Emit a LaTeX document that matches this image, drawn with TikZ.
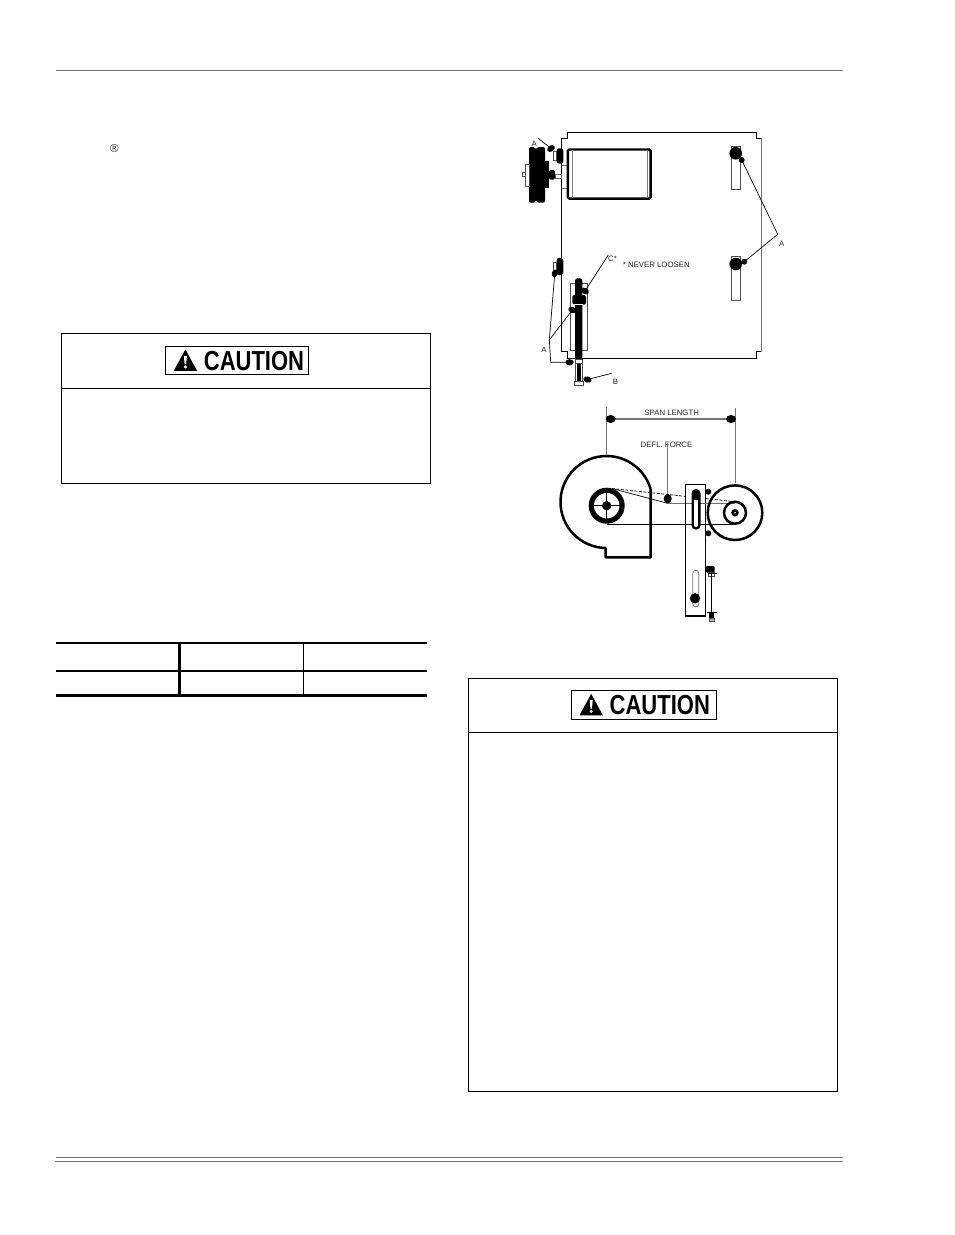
\documentclass[tikz,border=0pt]{standalone}
\usepackage{fontspec}
\usepackage{graphicx}
\setmainfont{Liberation Sans}
\definecolor{rulegray}{gray}{0.45}
\definecolor{leadgray}{gray}{0.45}
\tikzset{
  frame/.style={draw=black,line width=0.9pt},
  lbl/.style={inner sep=0pt,font=\fontsize{7.8}{9}\selectfont,text=black!85},
  lead/.style={draw=black,line width=0.7pt},
  glead/.style={draw=leadgray,line width=1.3pt},
  pale/.style={draw=black!70,line width=0.5pt,fill=white},
  heavy/.style={draw=black,line width=2.7pt},
}
\newcommand{\badge}[3]{%
  \begin{scope}[shift={(#1,#2)}]
    \draw[line width=0.7pt] (0,0) rectangle (#3,28.2);
    \fill (8,24.6) -- (19.7,3.2) -- (31.4,24.6) -- cycle;
    \fill[white] (18.2,9.5) -- (21.2,9.5) -- (20.5,18) -- (18.9,18) -- cycle;
    \fill[white] (19.7,20.6) circle (1.7);
    \node[inner sep=0pt,anchor=center] at (88.3,14.3)
      {\scalebox{.8}[1]{\fontsize{27.5}{30}\selectfont\bfseries CAUTION}};
  \end{scope}}
\begin{document}
\begin{tikzpicture}[x=1pt,y=-1pt]
\useasboundingbox (0,0) rectangle (954,1235);
\fill[white] (0,0) rectangle (954,1235);
% page rules
\draw[rulegray,line width=1pt] (56,70.5) -- (843,70.5);
\draw[rulegray,line width=0.9pt] (56,1157.5) -- (843,1157.5);
\draw[rulegray,line width=0.9pt] (55,1161.3) -- (843,1161.3);
\node[inner sep=0pt,font=\fontsize{11.5}{12}\selectfont,text=black!80] (reg) at (114.3,148.3) {®};
% caution boxes
\draw[frame] (61.7,333.7) rectangle (430.5,483.5);
\draw[frame] (61.7,388.3) -- (430.5,388.3);
\badge{165.7}{346.3}{143}
\draw[frame] (468.7,678.7) rectangle (837,1091);
\draw[frame] (468.7,732.7) -- (837,732.7);
\badge{571.5}{690.7}{145}
% table
\draw[heavy] (56,643) -- (427,643);
\draw[heavy] (56,671) -- (427,671);
\draw[heavy] (56,695.5) -- (427,695.5);
\draw[line width=3pt] (179.2,643) -- (179.2,695.5);
\draw[line width=1pt] (303.4,643) -- (303.4,695.5);
% ---- upper drawing ----
\draw[line width=0.9pt] (561.7,183) -- (561.7,351.7) -- (567.3,351.7) -- (567.3,358.3) -- (756,358.3)
  -- (756,351.7) -- (761.7,351.7);
\draw[line width=0.8pt] (561.7,183) -- (561.7,138.3) -- (567.3,138.3) -- (567.3,132.3) -- (756,132.3) -- (756,138.3) -- (761.7,138.3);
\draw[black!55,line width=1pt] (761.7,138.3) -- (761.7,351.7);
% motor
\draw[black!60,line width=.6pt] (561.7,165) -- (567.3,165) (561.7,188) -- (567.3,188);
\draw[line width=2.4pt,rounded corners=1.5pt] (567.8,149.5) rectangle (650.6,198.6);
\draw[black!50,line width=.5pt] (572.5,150) -- (572.5,198) (647.5,150) -- (647.5,198);
% pulley
\fill[rounded corners=2pt] (529,147) rectangle (545,202.7);
\fill[white] (533.5,147) -- (536,148.6) -- (538.5,147) -- cycle;
\fill[white] (533.5,202.7) -- (536,201) -- (538.5,202.7) -- cycle;
\draw[pale] (525,164.3) rectangle (529,186.3);
\draw[pale] (522.7,172.7) rectangle (525,176.7);
\fill (545,161) rectangle (549,188);
\fill[rounded corners=1.5pt] (549,170) rectangle (555,179.5);
\draw[black!60,line width=.6pt,fill=white] (555,174.3) rectangle (561.7,178.3);
% top bracket
\fill[rounded corners=2.5pt] (556.5,148.3) rectangle (563.3,163.5);
\draw[black!70,line width=.5pt,fill=white] (553.5,151) rectangle (556.5,160);
\fill[rotate around={35:(551,148.5)}] (551,148.5) ellipse (4.2 and 3);
\node[lbl] (labA1) at (534.3,144) {A};
\coordinate (endA1) at (538.3,138.3);
\coordinate (boltA1) at (551,148.5);
\draw[lead] (endA1) -- (boltA1);
% right slots
\draw[pale,line width=.7pt] (731.7,146) rectangle (740,189.3);
\draw[pale,line width=.7pt] (731.7,256) rectangle (740,300);
\fill (735.7,153.3) circle (6.3);
\fill (741.7,160) circle (3);
\fill (735.7,264) circle (6.3);
\fill (744.3,261.7) circle (3);
\node[lbl] (labA2) at (781.7,244) {A};
\coordinate (joinA2) at (777.7,234.3);
\coordinate (boltA2) at (741.7,160);
\coordinate (boltA3) at (744.3,261.7);
\draw[lead] (boltA2) -- (joinA2) -- (boltA3);
% lower left adjuster
\draw[pale,line width=.7pt] (570.3,283.3) rectangle (587.7,350);
\fill[rounded corners=2.5pt] (575,278.3) rectangle (582.3,360);
\fill[rounded corners=1.5pt] (572.3,295) rectangle (586,304.5);
\fill[white] (574,304) rectangle (583,305.2);
\draw[black!70,line width=.5pt,fill=white] (575,360) rectangle (582.3,385);
\fill (576.5,360) rectangle (581,384);
\draw[black!70,line width=.5pt,fill=white] (574.6,381) rectangle (582.8,385.5);
\draw[black!70,line width=.5pt,fill=white] (575,359.5) rectangle (582.3,362.8);
\fill[rounded corners=2.5pt] (556.5,258) rectangle (563.3,275);
\draw[black!70,line width=.5pt,fill=white] (553.5,262) rectangle (556.5,272);
\fill[rotate around={70:(554.8,273.3)}] (554.8,273.3) ellipse (4 and 3);
\fill[rotate around={-25:(572.3,310)}] (572.3,310) ellipse (4.2 and 3);
\fill[rotate around={-30:(585,291)}] (585,291) ellipse (4.2 and 3);
\fill (569.5,362.3) ellipse (4.2 and 3.1);
\fill[rotate around={-15:(587.5,379.5)}] (587.5,379.5) ellipse (4.2 and 3.1);
\node[lbl] (labC) at (612.5,258.5) {C*};
\node[lbl,anchor=west] (never) at (622.7,264.6) {* NEVER LOOSEN};
\node[lbl] (labA4) at (544,350.3) {A};
\node[lbl] (labB) at (615.5,382) {B};
\coordinate (endC) at (608.3,255);
\coordinate (boltC) at (585,291);
\coordinate (joinA4) at (549.3,340);
\coordinate (elbowA4) at (550.7,362.3);
\coordinate (boltA4a) at (554.8,273.3);
\coordinate (boltA4b) at (572.3,310);
\coordinate (boltA4c) at (569.5,362.3);
\coordinate (endB) at (611.7,373.3);
\coordinate (boltB) at (587.5,379.5);
\draw[lead] (endC) -- (boltC);
\draw[lead] (boltA4a) -- (joinA4) -- (boltA4b);
\draw[lead] (joinA4) -- (elbowA4) -- (boltA4c);
\draw[lead] (endB) -- (boltB);
% ---- lower drawing ----
\node[lbl] (span) at (671.7,412.6) {SPAN LENGTH};
\node[lbl] (defl) at (666.5,444.6) {DEFL. FORCE};
\coordinate (spanL) at (606.7,406.7);
\coordinate (spanLb) at (606.7,456.7);
\coordinate (spanR) at (735.7,408);
\coordinate (spanRb) at (735.7,483.3);
\draw[glead] (spanL) -- (spanLb);
\draw[glead] (spanR) -- (spanRb);
\draw[glead] (610,419) -- (732,419);
\fill (610.7,419) ellipse (5 and 4);
\fill (731,419) ellipse (5 and 4);
% blower
\draw[line width=2.5pt,line join=round] (605.7,548)
  arc[start angle=91,end angle=343,radius=46] -- (650.7,557.3) -- (605.7,557.3) -- cycle;
\draw[line width=.6pt] (606.7,488) -- (606.7,523) (589,505.7) -- (624,505.7);
\draw[line width=5.2pt] (606.7,505.7) circle (15.4);
\fill (606.7,505.7) circle (4.7);
% belt
\coordinate (beltA) at (612,488.5);
\coordinate (beltB) at (667.7,503.3);
\coordinate (beltC) at (735,501.7);
\coordinate (beltD) at (606.7,524);
\coordinate (beltE) at (735,524);
\draw[line width=.7pt] (beltA) -- (beltB);
\draw[line width=.7pt,dash pattern=on 3pt off 1.5pt] (beltA) -- (beltC);
\draw[line width=.7pt] (beltD) -- (beltE);
\draw[glead] (667.7,443.3) -- (667.7,503.3) -- (735,503.3);
\fill (667.7,498.7) ellipse (4 and 4.7);
% motor pulley
\draw[line width=2.5pt] (735,512.7) circle (27.3);
\draw[line width=2.5pt] (735,512.7) circle (11);
\fill (735,512.7) circle (3.8);
\fill[white] (735,512.7) circle (.9);
% plate
\draw[line width=1.4pt,fill=white] (685.7,484.7) rectangle (705.7,616);
\draw[line width=.7pt] (686,524) -- (705.5,524);
\draw[black!60,line width=1pt] (686,503.3) -- (705.5,503.3);
\draw[line width=2.4pt,fill=white,rounded corners=3pt] (692.7,490.5) rectangle (699.3,528.3);
\fill[rounded corners=3pt] (692,489.5) rectangle (700,500);
\draw[black!55,line width=.8pt,rounded corners=3pt] (692.8,570.3) rectangle (698.8,607);
\fill (695,598.3) circle (5.2);
\fill (708.3,491.7) circle (3);
\fill (708.3,533.3) circle (3);
% tensioner
\fill[rounded corners=1pt] (706,566) rectangle (714.5,572.5);
\draw[black!70,line width=.5pt] (708,572.5) rectangle (714,576);
\draw[line width=1.1pt] (711.5,573) -- (711.5,613);
\draw[line width=1.1pt] (707.5,573.5) -- (716.7,573.5);
\draw[line width=1.1pt] (707,612.7) -- (716.7,612.7);
\fill (709,613.3) rectangle (714.3,618);
\draw[black!70,line width=.5pt,fill=black!30] (709,618) rectangle (714.3,621.7);
\end{tikzpicture}
\end{document}
